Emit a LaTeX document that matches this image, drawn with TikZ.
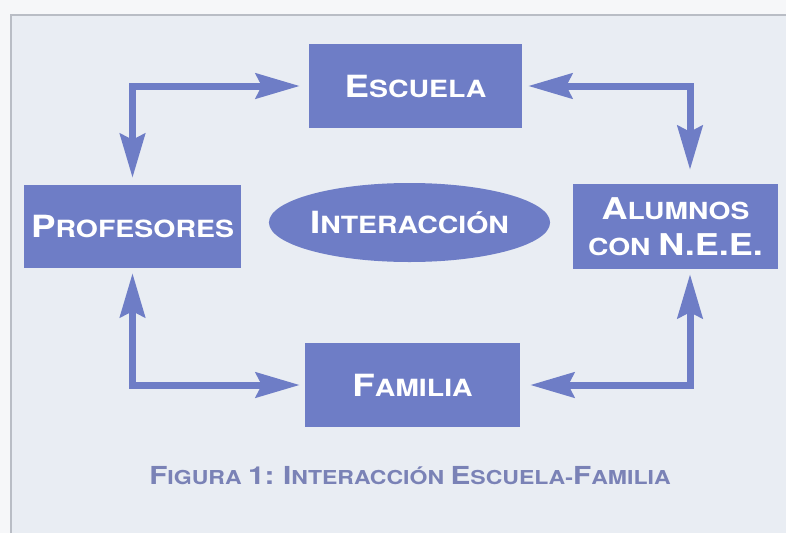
\documentclass[tikz,border=0pt]{standalone}
\usepackage{fontspec}
\setmainfont{TeX Gyre Heros}[FakeStretch=1.2]
\usetikzlibrary{arrows.meta,shapes.geometric}
\definecolor{boxblue}{RGB}{110,125,198}
\definecolor{bgblue}{RGB}{233,237,243}
\definecolor{bgwhite}{RGB}{246,247,249}
\definecolor{framegray}{RGB}{185,189,197}
\definecolor{captblue}{RGB}{122,130,182}
\newcommand\BG[1]{{\fontsize{30.6}{30}\selectfont #1}}
\newcommand\BGa[1]{{\fontsize{30}{30}\selectfont #1}}
\newcommand\BGc[1]{{\fontsize{24.8}{24}\selectfont #1}}
\tikzset{
  boxnode/.style={fill=boxblue, text=white, inner sep=0pt, align=center,
    font=\bfseries\fontsize{23.7}{26}\selectfont},
  ellnode/.style={ellipse, fill=boxblue, text=white, inner sep=0pt,
    minimum width=235pt, minimum height=79pt,
    font=\bfseries\fontsize{23.7}{26}\selectfont},
  conn/.style={draw=boxblue, line width=7pt,
    {Stealth[length=44pt,width=25pt,inset=6pt]}-{Stealth[length=44pt,width=25pt,inset=6pt]},
    shorten <=7pt, shorten >=7pt},
}
\begin{document}
\begin{tikzpicture}[x=1pt,y=-1pt]
\useasboundingbox (0,0) rectangle (786,533);
\fill[bgwhite] (0,0) rectangle (786,533);
\fill[bgblue] (11,15) rectangle (786,533);
\draw[framegray, line width=1.5pt] (11,533) -- (11,15) -- (786,15);

\node[boxnode, minimum width=213pt, minimum height=84pt] (esc) at (415.5,86) {\BG{E}SCUELA};
\node[boxnode, minimum width=217pt, minimum height=83pt] (prof) at (132.5,226.5) {\BG{P}ROFESORES};
\node[boxnode, minimum width=205pt, minimum height=85pt,
      font=\bfseries\fontsize{23.5}{36}\selectfont] (alu) at (675.5,226.5) {\BGa{A}LUMNOS\\CON \BGa{N.E.E.}};
\node[boxnode, minimum width=215pt, minimum height=84pt] (fam) at (412.5,385) {\BG{F}AMILIA};
\node[ellnode] (inter) at (409.5,222.5) {\BG{I}NTERACCIÓN};

\coordinate (cr) at (690,86);

\draw[conn, shorten >=9pt] (prof.north) |- (esc.west);
\draw[conn, shorten <=6pt, shorten >=14pt] (esc.east) -| (alu.north -| cr);
\draw[conn, shorten <=5pt, shorten >=5pt] (prof.south) |- (fam.west);
\draw[conn, shorten <=5pt, shorten >=10pt] (alu.south -| cr) |- (fam.east);

\node[text=captblue, inner sep=0pt, font=\bfseries\fontsize{19.2}{22}\selectfont] (cap) at (410,476)
  {\BGc{F}IGURA \BGc{1:} \BGc{I}NTERACCIÓN \BGc{E}SCUELA-\BGc{F}AMILIA};
\end{tikzpicture}
\end{document}
